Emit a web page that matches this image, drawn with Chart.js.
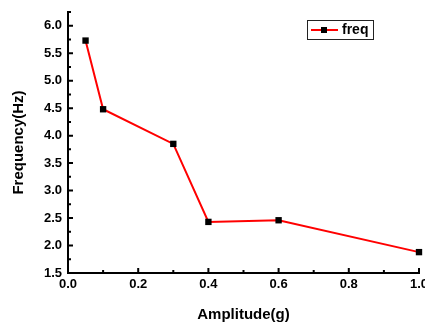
<!DOCTYPE html>
<html>
<head>
<meta charset="utf-8">
<script src="https://cdn.jsdelivr.net/npm/chart.js@4/dist/chart.umd.min.js"></script>
<style>
  html, body { margin: 0; padding: 0; background: #fff; }
  #wrap { width: 425px; height: 325px; }
</style>
</head>
<body>
<div id="wrap"><canvas id="freqChart" width="425" height="325"></canvas></div>
<script>
// --- dados ---
const amplitudes = [0.05, 0.1, 0.3, 0.4, 0.6, 1.0];
const freqs = [5.73, 4.48, 3.85, 2.43, 2.46, 1.88];
const xTicks = [0.0, 0.2, 0.4, 0.6, 0.8, 1.0];
const yTicks = [1.5, 2.0, 2.5, 3.0, 3.5, 4.0, 4.5, 5.0, 5.5, 6.0];
const xMinor = [0.1, 0.3, 0.5, 0.7, 0.9];
const yMinor = [1.75, 2.25, 2.75, 3.25, 3.75, 4.25, 4.75, 5.25, 5.75, 6.25];

const fontFam = '"Liberation Sans", Arial, sans-serif';

// ticks para dentro (estilo Origin)
const innerTicks = {
    id: 'innerTicks',
    afterDraw(chart) {
        const ctx = chart.ctx;
        const xs = chart.scales.x, ys = chart.scales.y;
        const left = chart.chartArea.left, bottom = chart.chartArea.bottom;
        ctx.save();
        ctx.strokeStyle = '#000';
        ctx.lineWidth = 2;
        ctx.beginPath();
        xTicks.forEach(v => { const px = xs.getPixelForValue(v); ctx.moveTo(px, bottom); ctx.lineTo(px, bottom - 5); });
        xMinor.forEach(v => { const px = xs.getPixelForValue(v); ctx.moveTo(px, bottom); ctx.lineTo(px, bottom - 3); });
        yTicks.forEach(v => { const py = ys.getPixelForValue(v); ctx.moveTo(left, py); ctx.lineTo(left + 5, py); });
        yMinor.forEach(v => { const py = ys.getPixelForValue(v); ctx.moveTo(left, py); ctx.lineTo(left + 3, py); });
        ctx.stroke();
        ctx.restore();
    }
};

// legenda desenhada a mao
const boxLegend = {
    id: 'boxLegend',
    afterDraw(chart) {
        const ctx = chart.ctx;
        const ds = chart.data.datasets[0];
        ctx.save();
        ctx.strokeStyle = '#222';
        ctx.lineWidth = 1;
        ctx.strokeRect(307.5, 20.5, 66, 19);
        ctx.strokeStyle = ds.borderColor;
        ctx.lineWidth = 2;
        ctx.beginPath(); ctx.moveTo(311, 30); ctx.lineTo(338, 30); ctx.stroke();
        ctx.fillStyle = '#000';
        ctx.fillRect(321, 27, 6, 6);
        ctx.font = 'bold 14px ' + fontFam;
        ctx.textBaseline = 'middle';
        ctx.fillText(ds.label, 342, 30.5);
        ctx.restore();
    }
};

new Chart(document.getElementById('freqChart'), {
    type: 'line',
    data: {
        datasets: [{
            label: 'freq',
            data: amplitudes.map((a, i) => ({ x: a, y: freqs[i] })),
            borderColor: '#ff0000',
            borderWidth: 2,
            pointStyle: 'rect',
            pointRadius: 4.5,
            pointBorderWidth: 0,
            pointBackgroundColor: '#000',
            tension: 0,
            clip: false
        }]
    },
    options: {
        responsive: false,
        animation: false,
        events: [],
        layout: { autoPadding: false, padding: { left: 0, right: 6, top: 12, bottom: 0 } },
        plugins: { legend: { display: false }, tooltip: { enabled: false } },
        scales: {
            x: {
                type: 'linear', min: 0, max: 1,
                grid: { display: false, drawTicks: false },
                border: { display: true, color: '#000', width: 2 },
                afterBuildTicks: s => { s.ticks = xTicks.map(v => ({ value: v })); },
                afterFit: s => { s.height = 52; s.paddingLeft = 0; s.paddingRight = 0; },
                ticks: { color: '#000', padding: 4, maxRotation: 0, font: { family: fontFam, size: 13, weight: 'bold' }, callback: v => v.toFixed(1) },
                title: { display: true, text: 'Amplitude(g)', color: '#000', padding: { top: 0, bottom: 1 }, font: { family: fontFam, size: 15, weight: 'bold', lineHeight: 1.2 } }
            },
            y: {
                type: 'linear', min: 1.5, max: 6.25,
                grid: { display: false, drawTicks: false },
                border: { display: true, color: '#000', width: 2 },
                afterBuildTicks: s => { s.ticks = yTicks.map(v => ({ value: v })); },
                afterFit: s => { s.width = 68; s.paddingTop = 0; s.paddingBottom = 0; },
                ticks: { color: '#000', padding: 6, font: { family: fontFam, size: 13, weight: 'bold' }, callback: v => v.toFixed(1) },
                title: { display: true, text: 'Frequency(Hz)', color: '#000', padding: { top: 10, bottom: 0 }, font: { family: fontFam, size: 15, weight: 'bold', lineHeight: 1.2 } }
            }
        }
    },
    plugins: [innerTicks, boxLegend]
});
</script>
</body>
</html>
